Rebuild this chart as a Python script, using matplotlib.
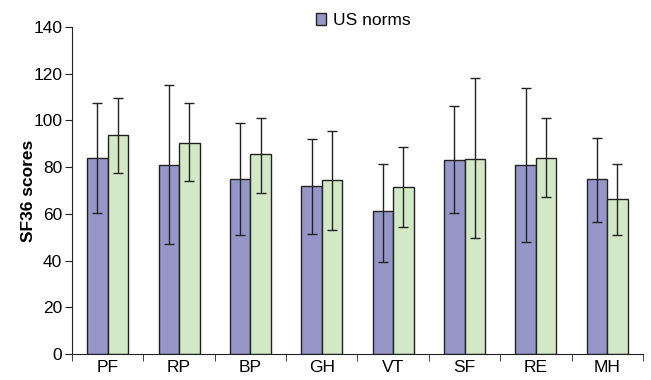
import matplotlib
matplotlib.use('Agg')
import matplotlib.pyplot as plt
import numpy as np

categories = ['PF', 'RP', 'BP', 'GH', 'VT', 'SF', 'RE', 'MH']

# US norms (purple)
us_mean = [84, 81, 75, 72, 61, 83, 81, 75]
us_err_hi = [107.5, 115, 99, 92, 81.5, 106, 114, 92.5]
us_err_lo = [60.5, 47, 51, 51.5, 39.5, 60.5, 48, 56.5]

# second group (green)
grp_mean = [93.5, 90.5, 85.5, 74.5, 71.5, 83.5, 84, 66.5]
grp_err_hi = [109.5, 107.5, 101, 95.5, 88.5, 118, 101, 81.5]
grp_err_lo = [77.5, 74, 69, 53, 54.5, 49.5, 67, 51]

plt.rcParams['font.family'] = ['Liberation Sans', 'DejaVu Sans']

fig = plt.figure(figsize=(6.51, 3.80), dpi=100)
ax = fig.add_axes([0.1106, 0.0684, 0.877, 0.861])

x = np.arange(len(categories))
w = 0.287
purple = '#9696c8'
green = '#d3e8c6'

us_yerr = [np.array(us_mean) - np.array(us_err_lo), np.array(us_err_hi) - np.array(us_mean)]
grp_yerr = [np.array(grp_mean) - np.array(grp_err_lo), np.array(grp_err_hi) - np.array(grp_mean)]

ax.bar(x - w / 2, us_mean, w, color=purple, edgecolor='#222222', linewidth=1.0,
       label='US norms', zorder=2)
ax.bar(x + w / 2, grp_mean, w, color=green, edgecolor='#222222', linewidth=1.0, zorder=2)
ax.errorbar(x - w / 2, us_mean, yerr=us_yerr, fmt='none', ecolor='#222222',
            elinewidth=1.0, capsize=3.5, capthick=1.0, zorder=3)
ax.errorbar(x + w / 2, grp_mean, yerr=grp_yerr, fmt='none', ecolor='#222222',
            elinewidth=1.0, capsize=3.5, capthick=1.0, zorder=3)

ax.set_xlim(-0.5, len(categories) - 0.5)
ax.set_ylim(0, 140)
ax.set_yticks(range(0, 141, 20))
ax.set_xticks(x)
ax.set_xticklabels(categories)
ax.set_xticks(np.arange(-0.5, len(categories)), minor=True)
ax.tick_params(axis='x', which='major', length=0, labelsize=12.5, pad=4)
ax.tick_params(axis='x', which='minor', length=5, direction='out', color='#222222')
ax.tick_params(axis='y', length=5, direction='out', labelsize=12.5, color='#222222', pad=2)

for s in ['top', 'right']:
    ax.spines[s].set_visible(False)
ax.spines['left'].set_color('#222222')
ax.spines['bottom'].set_color('#222222')

ax.set_ylabel('SF36 scores', fontsize=12.5, fontweight='bold', labelpad=-2)

ax.legend(loc='upper center', bbox_to_anchor=(0.51, 1.065), frameon=False,
          fontsize=12.5, handlelength=0.6, handleheight=0.7, handletextpad=0.4,
          borderaxespad=0)

fig.savefig('out.png', dpi=100)
